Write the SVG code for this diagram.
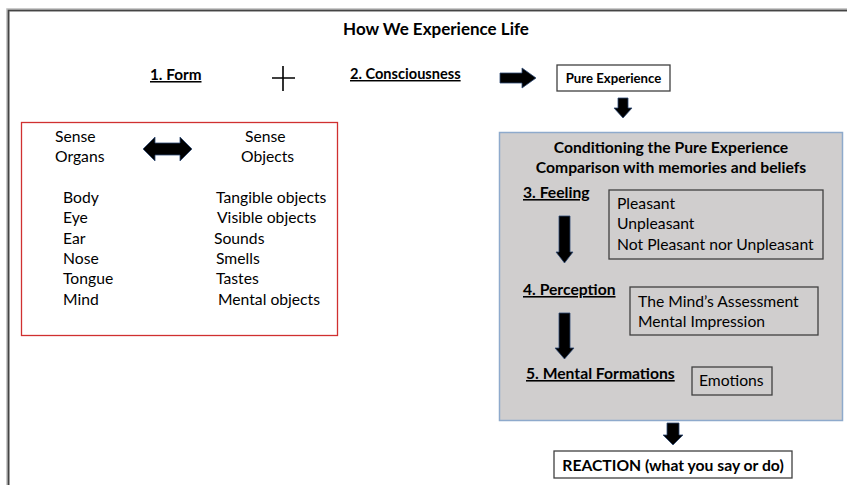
<svg xmlns="http://www.w3.org/2000/svg" width="847" height="485" viewBox="0 0 847 485">
<style>
text{font-family:Lato,"Liberation Sans",sans-serif;font-size:15.7px;fill:#000}
.b{font-weight:bold}
.u{text-decoration:underline}
.c{text-anchor:middle}
.box{fill:#fff;stroke:#404040;stroke-width:1.3}
.ibox{fill:none;stroke:#404040;stroke-width:1.3}
.arr{fill:#000;stroke:#2e4a75;stroke-width:0.8}
</style>
<rect width="847" height="485" fill="#fff"/>
<g id="frame">
<path d="M8,485 V10 H847" fill="none" stroke="#bbb" stroke-width="3.5"/>
<path d="M8.5,485 V10.5 H847" fill="none" stroke="#444" stroke-width="1.6"/>
</g>
<g id="title"><text class="b c" x="436" y="35" style="font-size:17px">How We Experience Life</text></g>
<g id="form"><text class="b u" x="150" y="80" style="font-size:15.3px">1. Form</text></g>
<g id="plus"><path d="M272,78 H295 M283,66 V91" stroke="#000" stroke-width="1.6"/></g>
<g id="consciousness"><text class="b u" x="350" y="79" style="font-size:14.6px">2. Consciousness</text></g>
<g id="pure">
<rect class="box" x="557" y="65" width="113" height="26"/>
<text class="b c" x="613.5" y="83" style="font-size:13.2px">Pure Experience</text>
</g>
<g id="sense">
<rect x="21.5" y="122.5" width="316" height="213" fill="#fff" stroke="#d03030" stroke-width="1.3"/>
<text x="55" y="142">Sense</text>
<text x="55" y="162">Organs</text>
<text x="245" y="142">Sense</text>
<text x="241" y="162">Objects</text>
<text x="63" y="203">Body</text>
<text x="63" y="223">Eye</text>
<text x="63" y="244">Ear</text>
<text x="63" y="264">Nose</text>
<text x="63" y="284">Tongue</text>
<text x="63" y="305">Mind</text>
<text x="216" y="203">Tangible objects</text>
<text x="217" y="223">Visible objects</text>
<text x="214" y="244">Sounds</text>
<text x="216" y="264">Smells</text>
<text x="216" y="284">Tastes</text>
<text x="218" y="305">Mental objects</text>
</g>
<g id="conditioning">
<rect x="499.5" y="132.5" width="343" height="288" fill="#d0cece" stroke="#8eaacc" stroke-width="1.5"/>
<text class="b c" x="671" y="153">Conditioning the Pure Experience</text>
<text class="b c" x="671" y="173">Comparison with memories and beliefs</text>
</g>
<g id="feeling">
<text class="b u" x="523" y="198">3. Feeling</text>
<rect class="ibox" x="609" y="190" width="214" height="69"/>
<text x="617" y="209">Pleasant</text>
<text x="617" y="229">Unpleasant</text>
<text x="617" y="250">Not Pleasant nor Unpleasant</text>
</g>
<g id="perception">
<text class="b u" x="523" y="295">4. Perception</text>
<rect class="ibox" x="630" y="287" width="188" height="48"/>
<text x="638" y="307">The Mind’s Assessment</text>
<text x="638" y="327">Mental Impression</text>
</g>
<g id="formations">
<text class="b u" x="526" y="379">5. Mental Formations</text>
<rect class="ibox" x="692" y="367" width="80" height="28"/>
<text x="699" y="386">Emotions</text>
</g>
<g id="reaction">
<rect class="box" x="554" y="451" width="238" height="27"/>
<text class="b c" x="673" y="471">REACTION (what you say or do)</text>
</g>
<g id="connectors">
<path class="arr" d="M143,149 L155,137 V143 H180 V137 L192,149 L180,161 V155 H155 V161 Z"/>
<path class="arr" d="M500,73 H522 V68 L536,78 L522,88 V83 H500 Z"/>
<path class="arr" d="M618,98 H628 V108 H632 L623,118 L614,108 H618 Z"/>
<path class="arr" d="M559,216 H570 V252 H573 L564.5,263 L556,252 H559 Z"/>
<path class="arr" d="M559,313 H570 V348 H574 L564.5,359 L555,348 H559 Z"/>
<path class="arr" d="M667,423 H679 V435 H683 L673,445 L663,435 H667 Z"/>
</g>
</svg>
